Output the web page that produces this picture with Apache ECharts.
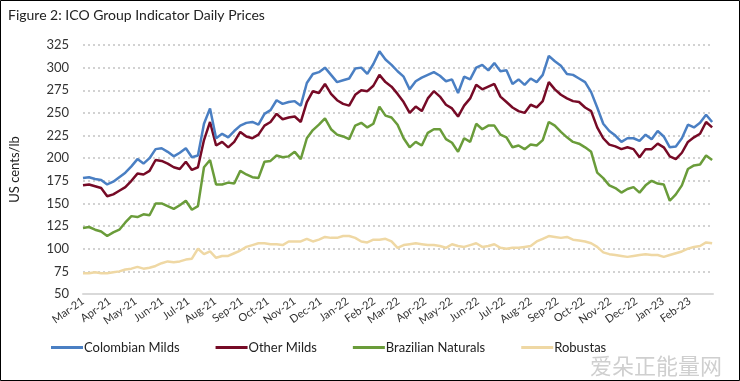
<!DOCTYPE html>
<html><head><meta charset="utf-8">
<script src="https://cdn.jsdelivr.net/npm/echarts@6/dist/echarts.min.js"></script>
<style>html,body{margin:0;padding:0;background:#fff}#c{width:740px;height:381px}</style>
</head><body><div id="c"></div>
<script>
// weekly observations starting Monday 1 March 2021
const startDate = '2021-03-01';
const stepDays = 7;
const colombianMilds = [178,179,177,176,171,174,179,184,191,199,194,200,210,211,207,202,206,211,201,203,
  238,255,222,227,223,230,236,239,240,237,249,253,264,260,262,263,
  258,283,293,295,300,292,284,286,288,299,300,293,304,318,309,303,296,290,276,285,289,292,295,291,285,287,272,290,287,300,303,297,305,296,297,
  282,287,281,288,284,292,313,307,302,293,292,288,284,273,256,238,230,225,218,222,222,219,226,221,230,224,212,213,222,237,234,239,248,240];
const otherMilds = [170,171,169,167,158,160,164,168,175,183,182,186,198,197,194,190,188,196,187,190,
  220,240,214,218,212,218,229,224,222,226,236,240,249,243,245,246,
  240,262,274,272,282,271,264,260,258,270,275,274,280,292,284,279,271,262,250,257,252,266,274,268,259,255,246,258,266,281,276,279,282,268,262,
  256,252,250,259,256,263,284,276,270,266,263,262,256,252,234,222,215,213,210,212,210,201,210,210,216,212,202,199,206,218,223,227,240,234];
const brazilianNaturals = [123,124,121,119,114,118,121,129,136,135,138,137,150,150,147,144,148,153,143,147,
  190,198,171,171,173,172,186,182,179,178,196,197,203,201,202,207,
  199,222,231,237,244,232,226,224,221,236,239,234,238,257,247,245,237,222,212,218,214,228,232,232,221,217,207,222,218,238,232,236,236,226,223,
  212,214,210,215,214,220,240,236,229,223,218,216,212,207,184,178,170,167,162,166,168,162,170,175,172,171,153,160,170,188,192,193,203,198];
const robustas = [73,73,74,73,73,74,75,77,78,80,78,79,81,84,86,85,86,88,89,100,
  94,97,90,92,92,95,98,102,104,106,106,105,105,104,108,108,
  108,111,108,110,113,112,112,114,114,112,108,107,110,110,111,108,101,104,105,106,105,104,104,103,101,105,103,102,104,106,102,103,105,101,100,
  101,101,102,103,108,111,114,113,112,113,110,109,108,106,102,96,94,93,92,91,92,93,94,93,93,91,93,95,97,100,102,103,107,106];
const seriesNames = ['Colombian Milds','Other Milds','Brazilian Naturals','Robustas'];
const seriesColors = ['#4a7fc3','#760a26','#6a9c3a','#efd8a4'];
const yTicks = {min:50, max:325, interval:25};
const monthNames = ['Jan','Feb','Mar','Apr','May','Jun','Jul','Aug','Sep','Oct','Nov','Dec'];

const t0 = new Date(startDate + 'T00:00:00').getTime();
function pairs(arr){ return arr.map((v,i)=>[t0 + i*stepDays*86400000, v]); }
const all = [colombianMilds, otherMilds, brazilianNaturals, robustas];

const chart = echarts.init(document.getElementById('c'), null, {renderer:'canvas'});
const FONT = 'Lato';
chart.setOption({
  animation:false,
  backgroundColor:'#fff',
  title:{text:'Figure 2: ICO Group Indicator Daily Prices', left:3, top:3,
    textStyle:{fontFamily:FONT, fontSize:14, fontWeight:'normal', color:'#222'}},
  grid:{left:80, right:27, top:45, bottom:87, containLabel:false},
  legend:{bottom:22, left:46, itemWidth:32, itemHeight:3, itemGap:36,
    icon:'rect', textStyle:{fontFamily:FONT, fontSize:13, color:'#222', padding:[0,0,0,-4]},
    data:seriesNames},
  xAxis:{type:'time', min:'2021-03-01', max:'2023-02-28', splitNumber:24,
    minInterval:28*86400000, maxInterval:31*86400000,
    axisLine:{show:true, lineStyle:{color:'#d9d9d9', width:2}},
    axisTick:{show:false}, splitLine:{show:false},
    axisLabel:{rotate:35, fontFamily:FONT, fontSize:11, color:'#333', margin:6, hideOverlap:false,
      formatter:function(v){const d=new Date(v); return monthNames[d.getMonth()]+'-'+String(d.getFullYear()).slice(2);}}},
  yAxis:{type:'value', min:yTicks.min, max:yTicks.max, interval:yTicks.interval,
    name:'US cents/lb', nameLocation:'middle', nameGap:62, nameRotate:90,
    nameTextStyle:{fontFamily:FONT, fontSize:13, color:'#222'},
    axisLine:{show:false}, axisTick:{show:false},
    axisLabel:{fontFamily:FONT, fontSize:13, color:'#333', margin:14},
    splitLine:{lineStyle:{color:'#c4c4c4', width:1.5, type:[2,3]}}},
  series: all.map((arr,i)=>({name:seriesNames[i], type:'line', data:pairs(arr), showSymbol:false,
    lineStyle:{width:2.5, color:seriesColors[i]}, itemStyle:{color:seriesColors[i]}, z:10-i})),
  graphic:[
    {type:'rect', shape:{x:0.5,y:0.5,width:739,height:380}, style:{fill:null, stroke:'#000', lineWidth:1}, z:100},
    {type:'text', right:18, bottom:4, style:{text:'爱朵正能量网', font:'22px "Noto Sans CJK SC"', fill:'#cfcfcf'}, z:100}
  ]
});
</script></body></html>
